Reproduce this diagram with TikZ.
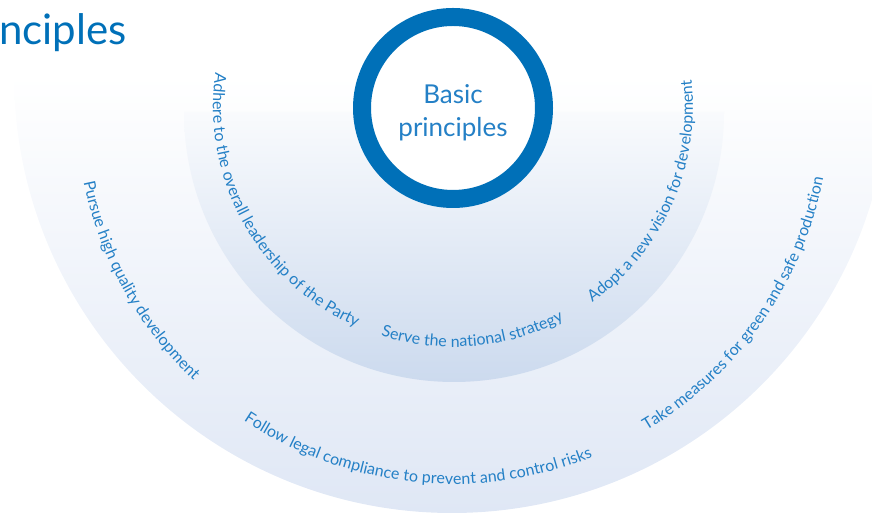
\documentclass[tikz,border=0pt]{standalone}
\usepackage{fontspec}
\setmainfont{Lato}
\usetikzlibrary{decorations.text}
\definecolor{ringblue}{RGB}{0,112,184}
\definecolor{textblue}{RGB}{36,128,198}
\definecolor{outerbot}{RGB}{223,231,245}
\definecolor{innerbot}{RGB}{204,218,238}
\newcommand{\arcfont}{\fontsize{16}{18}\selectfont}

\begin{document}
\begin{tikzpicture}[x=1pt,y=1pt,
    curved/.style={decorate,decoration={text along path,text align=center,
      text color=textblue,text={|\arcfont|#1}}}]
  \useasboundingbox (0,0) rectangle (872,518);
  \shade[top color=white,bottom color=outerbot] (14,443) arc[start angle=180,end angle=360,radius=438pt] -- cycle;
  \shade[top color=white!88!innerbot,bottom color=innerbot] (184,406) arc[start angle=180,end angle=360,radius=270pt] -- cycle;
  \coordinate (c) at (453,411);
  \path[curved={Adhere to the overall leadership of the Party}] ([shift={(149:240pt)}]c) arc[start angle=149,end angle=269,radius=240pt];
  \path[curved={Serve the national strategy}] ([shift={(215:240pt)}]c) arc[start angle=215,end angle=335,radius=240pt];
  \path[curved={Adopt a new vision for development}] ([shift={(276:240pt)}]c) arc[start angle=276,end angle=396,radius=240pt];
  \path[curved={Pursue high quality development}] ([shift={(149:377pt)}]c) arc[start angle=149,end angle=269,radius=377pt];
  \path[curved={Follow legal compliance to prevent and control risks}] ([shift={(204:377pt)}]c) arc[start angle=204,end angle=324,radius=377pt];
  \path[curved={Take measures for green and safe production}] ([shift={(265:377pt)}]c) arc[start angle=265,end angle=385,radius=377pt];
  \node[circle,draw=ringblue,line width=18pt,fill=white,minimum size=182pt,inner sep=0pt] (core) at (453,410) {};
  \node[text=textblue,align=center,font=\fontsize{26}{33}\selectfont] (corelabel) at ([yshift=-5pt]core) {Basic\\principles};
  \node[anchor=base west,text=ringblue,font=\fontsize{42}{44}\selectfont,inner sep=0pt] (title) at (-1,473) {nciples};
\end{tikzpicture}
\end{document}
